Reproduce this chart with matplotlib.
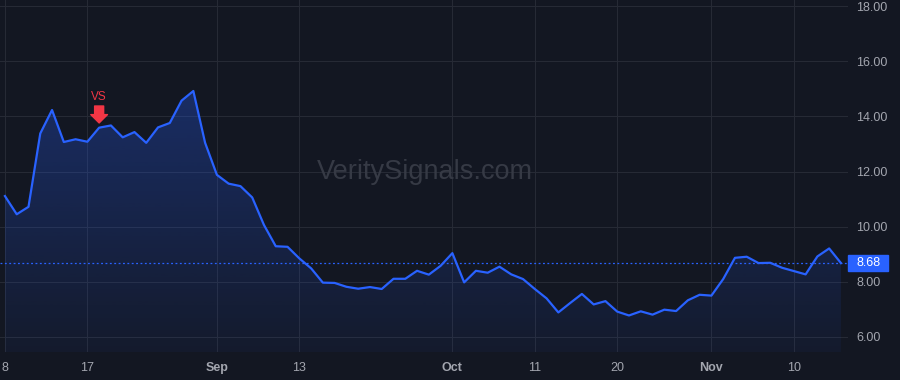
import numpy as np
import pandas as pd
import matplotlib
matplotlib.use('Agg')
import matplotlib.pyplot as plt
import matplotlib.transforms as mtransforms
from matplotlib.colors import LinearSegmentedColormap
from matplotlib.patches import Rectangle

# Trading days Aug 8 - Nov 16 2023 (US market, closed on Labor Day)
dates = pd.bdate_range('2023-08-08', '2023-11-16')
dates = dates[dates != pd.Timestamp('2023-09-04')]

values = [11.11, 10.45, 10.72, 13.38, 14.23, 13.07, 13.17, 13.08, 13.59, 13.67,
          13.24, 13.43, 13.04, 13.60, 13.76, 14.57, 14.92, 13.04, 11.88, 11.56,
          11.47, 11.06, 10.06, 9.29, 9.27, 8.85, 8.49, 7.97, 7.96, 7.82,
          7.75, 7.81, 7.74, 8.11, 8.11, 8.40, 8.26, 8.58, 9.04, 7.98,
          8.40, 8.33, 8.55, 8.27, 8.10, 7.74, 7.40, 6.89, 7.23, 7.56,
          7.18, 7.30, 6.92, 6.78, 6.93, 6.81, 6.99, 6.94, 7.33, 7.53,
          7.50, 8.10, 8.87, 8.91, 8.68, 8.69, 8.51, 8.39, 8.27, 8.92,
          9.21, 8.68]

tick_dates = ['2023-08-08', '2023-08-17', '2023-09-01', '2023-09-13', '2023-10-02',
              '2023-10-11', '2023-10-20', '2023-11-01', '2023-11-10']
tick_labels = ['8', '17', 'Sep', '13', 'Oct', '11', '20', 'Nov', '10']
month_labels = ['Sep', 'Oct', 'Nov']
y_ticks = [6, 8, 10, 12, 14, 16, 18]

signal_date = '2023-08-18'
signal_text = 'VS'
watermark = 'VeritySignals.com'

# colours (dark theme)
BG = '#131722'
GRID = '#262a35'
LINE = '#2962ff'
TXT = '#a3a6af'
RED = '#f23645'

plt.rcParams['font.family'] = ['Liberation Sans', 'DejaVu Sans']

x = np.arange(len(values))
y = np.array(values)
last_price = values[-1]
date_list = list(dates)
tick_idx = [date_list.index(pd.Timestamp(d)) for d in tick_dates]
sig_i = date_list.index(pd.Timestamp(signal_date))

y_lo, y_hi = 5.455, 18.22

fig = plt.figure(figsize=(9, 3.8), dpi=100, facecolor=BG)
ax = fig.add_axes([0, 28 / 380, 848 / 900, 352 / 380])
ax.set_facecolor(BG)

# gradient area under the line
poly = ax.fill_between(x, y, y_lo, facecolor='none', edgecolor='none')
fade = LinearSegmentedColormap.from_list(
    'fade', [(41 / 255, 98 / 255, 1, 0.05), (41 / 255, 98 / 255, 1, 0.30)])
grad = np.linspace(0, 1, 256).reshape(-1, 1)
im = ax.imshow(grad, cmap=fade, aspect='auto', origin='lower',
               extent=[x[0], x[-1], y_lo, y.max()], zorder=1)
im.set_clip_path(poly.get_paths()[0], transform=ax.transData)

ax.plot(x, y, color=LINE, lw=1.6, zorder=3)
ax.axhline(last_price, color=LINE, lw=0.9, ls=(0, (1.5, 2)), zorder=2)

ax.set_xlim(-0.42, len(values) - 0.4)
ax.set_ylim(y_lo, y_hi)

# axes, ticks, grid
ax.yaxis.tick_right()
ax.set_yticks(y_ticks, [f'{v:.2f}' for v in y_ticks])
ax.set_xticks(tick_idx, tick_labels)
for lab in ax.get_xticklabels():
    if lab.get_text() in month_labels:
        lab.set_fontweight('bold')
ax.tick_params(axis='y', length=0, pad=6, labelsize=9, labelcolor=TXT)
ax.tick_params(axis='x', length=0, pad=7, labelsize=9, labelcolor=TXT)
ax.grid(True, color=GRID, lw=0.75)
ax.set_axisbelow(True)
for s in ax.spines.values():
    s.set_visible(False)

# last price tag on the right axis
trans = mtransforms.blended_transform_factory(ax.transAxes, ax.transData)
ax.add_patch(Rectangle((1.0, last_price - 0.29), 40 / 848, 0.58, transform=trans,
                       color=LINE, clip_on=False, zorder=5))
ax.text(1.0 + 21 / 848, last_price, f'{last_price:.2f}', transform=trans,
        ha='center', va='center', color='white', fontsize=9, zorder=6, clip_on=False)

# watermark
ax.text(0.501, 0.511, watermark, transform=ax.transAxes, ha='center', va='center',
        fontsize=19.5, color='#363a45', zorder=2)

# signal marker
ax.annotate('', xy=(sig_i, values[sig_i]), xytext=(0, 15.6), textcoords='offset points',
            arrowprops=dict(arrowstyle='simple,head_length=0.6,head_width=1.2,tail_width=0.65',
                            mutation_scale=10, color=RED, shrinkA=0, shrinkB=3.4),
            zorder=6)
ax.annotate(signal_text, xy=(sig_i, values[sig_i]), xytext=(0, 22.3),
            textcoords='offset points', ha='center', va='center',
            color=RED, fontsize=8.5, zorder=6)

plt.savefig('out.png', dpi=100, facecolor=BG)
